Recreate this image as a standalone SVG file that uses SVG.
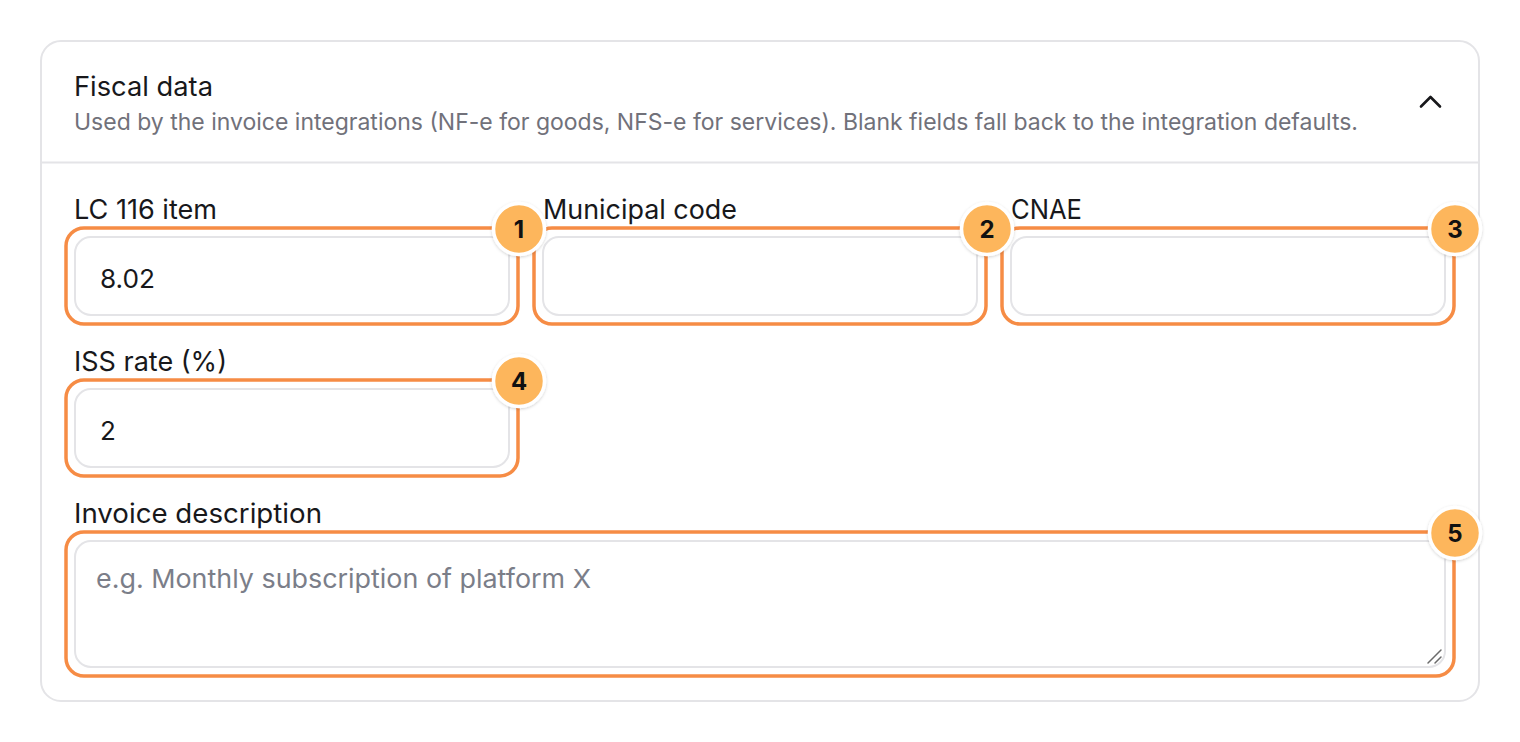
<svg xmlns="http://www.w3.org/2000/svg" width="1520" height="742" viewBox="0 0 1520 742">
<defs>
<style>
.card{fill:#ffffff;stroke:#e4e4e7;stroke-width:2}
.div{stroke:#e4e4e7;stroke-width:2}
.title{font-family:Inter,"Noto Sans",sans-serif;font-size:27px;fill:#18181b}
.sub{font-family:Inter,"Noto Sans",sans-serif;font-size:23px;fill:#71717a}
.lbl{font-family:Inter,"Noto Sans",sans-serif;font-size:27px;fill:#18181b}
.val{font-family:Inter,"Noto Sans",sans-serif;font-size:26px;fill:#18181b}
.ph{font-family:Inter,"Noto Sans",sans-serif;font-size:26px;fill:#7b7e89}
.inp{fill:#ffffff;stroke:#e4e4e7;stroke-width:2}
.hl{fill:none;stroke:#f68c45;stroke-width:3.5}
.badge{fill:#fdb65c;stroke:#ffffff;stroke-width:3.5}
.num{font-family:Inter,"Noto Sans",sans-serif;font-size:24px;font-weight:700;fill:#111111;text-anchor:middle}
</style>
<filter id="sh" x="-30%" y="-30%" width="160%" height="160%">
<feDropShadow dx="0" dy="1" stdDeviation="1.5" flood-color="#000000" flood-opacity="0.18"/>
</filter>
</defs>
<rect width="1520" height="742" fill="#ffffff"/>
<g id="card">
<rect class="card" x="41" y="41" width="1438" height="660" rx="20"/>
<line class="div" x1="42" y1="162.5" x2="1478" y2="162.5"/>
<text class="title" x="74" y="96" textLength="139" lengthAdjust="spacingAndGlyphs">Fiscal data</text>
<text class="sub" x="74" y="130" textLength="1284" lengthAdjust="spacingAndGlyphs">Used by the invoice integrations (NF-e for goods, NFS-e for services). Blank fields fall back to the integration defaults.</text>
<path d="M1421 106.5 L1430.5 97 L1440 106.5" fill="none" stroke="#18181b" stroke-width="2.6" stroke-linecap="round" stroke-linejoin="round"/>
</g>
<g id="field1">
<text class="lbl" x="74" y="219" textLength="143" lengthAdjust="spacingAndGlyphs">LC 116 item</text>
<rect class="inp" x="75" y="237" width="434" height="78" rx="16"/>
<text class="val" x="100" y="288" textLength="55" lengthAdjust="spacingAndGlyphs">8.02</text>
<rect class="hl" x="66" y="228" width="452" height="96" rx="18"/>
</g>
<g id="field2">
<text class="lbl" x="543" y="219" textLength="194" lengthAdjust="spacingAndGlyphs">Municipal code</text>
<rect class="inp" x="543" y="237" width="434" height="78" rx="16"/>
<rect class="hl" x="534" y="228" width="452" height="96" rx="18"/>
</g>
<g id="field3">
<text class="lbl" x="1011" y="219" textLength="71" lengthAdjust="spacingAndGlyphs">CNAE</text>
<rect class="inp" x="1011" y="237" width="434" height="78" rx="16"/>
<rect class="hl" x="1002" y="228" width="452" height="96" rx="18"/>
</g>
<g id="field4">
<text class="lbl" x="74" y="371" textLength="153" lengthAdjust="spacingAndGlyphs">ISS rate (%)</text>
<rect class="inp" x="75" y="389" width="434" height="78" rx="16"/>
<text class="val" x="100" y="440">2</text>
<rect class="hl" x="66" y="380" width="452" height="96" rx="18"/>
</g>
<g id="field5">
<text class="lbl" x="74" y="523" textLength="248" lengthAdjust="spacingAndGlyphs">Invoice description</text>
<rect class="inp" x="75" y="541" width="1370" height="126" rx="16"/>
<text class="ph" x="96" y="588" textLength="495" lengthAdjust="spacingAndGlyphs">e.g. Monthly subscription of platform X</text>
<path d="M1428 663 L1441 650 M1435 663 L1441 657" stroke="#6b6b6b" stroke-width="1.5" stroke-linecap="round"/>
<rect class="hl" x="66" y="532" width="1388" height="144" rx="18"/>
</g>
<g id="connectors"></g>
<g id="badges">
<g id="badge1"><circle class="badge" cx="519" cy="229" r="25.5" filter="url(#sh)"/><text class="num" x="519" y="237.5">1</text></g>
<g id="badge2"><circle class="badge" cx="987" cy="229" r="25.5" filter="url(#sh)"/><text class="num" x="987" y="237.5">2</text></g>
<g id="badge3"><circle class="badge" cx="1455" cy="229" r="25.5" filter="url(#sh)"/><text class="num" x="1455" y="237.5">3</text></g>
<g id="badge4"><circle class="badge" cx="519" cy="381" r="25.5" filter="url(#sh)"/><text class="num" x="519" y="389.5">4</text></g>
<g id="badge5"><circle class="badge" cx="1455" cy="533" r="25.5" filter="url(#sh)"/><text class="num" x="1455" y="541.5">5</text></g>
</g>
</svg>
